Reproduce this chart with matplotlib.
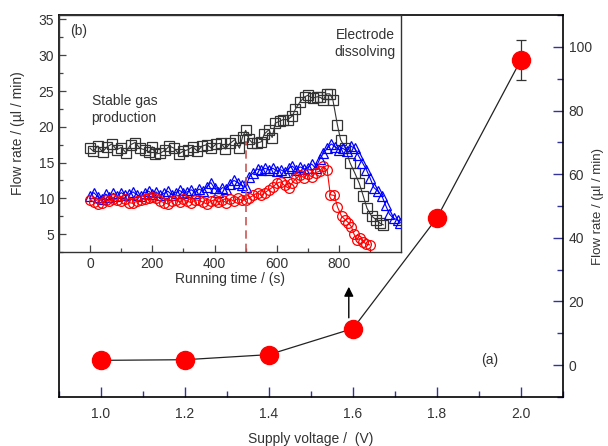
#Recreates the flow rate vs supply voltage chart with the running time inset.
import matplotlib.pyplot as plt
from matplotlib.ticker import MultipleLocator, FixedLocator

plt.rcParams['font.family'] = ['Liberation Sans', 'DejaVu Sans']

#Main chart data (a): supply voltage and flow rate.
voltage = [1.0, 1.2, 1.4, 1.6, 1.8, 2.0]
flow = [1.5, 1.7, 3.3, 11.5, 46.3, 96.0]
flow_err = [0, 0, 0, 0, 0, 6.3]

#Inset data (b): flow rate over running time for three runs.
t_black = [0, 10, 25, 40, 55, 70, 85, 100, 115, 130, 145, 160, 175, 190, 200, 210,
           225, 240, 255, 270, 285, 300, 315, 330, 345, 360, 375, 390, 405, 420, 435,
           450, 465, 480, 490, 500, 510, 520, 535, 550, 560, 575, 585, 595, 610, 620,
           635, 650, 660, 675, 690, 700, 715, 730, 740, 750, 760, 770, 780, 795, 805,
           820, 835, 850, 865, 878, 890, 905, 920, 932, 942]
v_black = [17.0, 16.6, 17.3, 16.5, 17.2, 17.6, 16.8, 17.1, 16.4, 17.5, 17.8, 17.0, 16.8,
           16.5, 17.2, 16.2, 16.3, 16.7, 17.3, 17.0, 16.2, 16.6, 16.8, 17.2, 16.6, 17.3,
           17.5, 17.0, 17.6, 17.7, 16.9, 17.7, 18.2, 17.0, 18.6, 19.5, 18.3, 17.8, 17.7,
           17.9, 19.0, 19.6, 18.5, 20.5, 20.8, 21.0, 21.0, 21.5, 22.5, 23.5, 24.2, 24.4,
           24.0, 24.2, 24.1, 23.8, 24.6, 24.6, 23.8, 20.2, 18.2, 17.0, 15.0, 13.6, 12.1,
           10.3, 8.6, 7.5, 7.0, 6.5, 6.3]

t_blue = [0, 12, 25, 38, 50, 62, 75, 88, 100, 112, 125, 138, 150, 162, 175, 188, 200,
          212, 225, 238, 250, 262, 275, 288, 300, 312, 325, 338, 350, 362, 375, 388, 400,
          412, 425, 438, 450, 462, 475, 488, 500, 512, 525, 538, 550, 562, 575, 588, 600,
          612, 625, 638, 650, 662, 675, 688, 700, 712, 725, 738, 750, 762, 775, 788, 800,
          812, 825, 838, 850, 862, 875, 888, 900, 912, 925, 938, 950, 962, 975, 988, 997]
v_blue = [10.3, 10.8, 10.2, 9.9, 10.6, 10.2, 10.7, 10.3, 10.8, 10.4, 10.6, 10.9, 10.5,
          10.3, 10.8, 11.0, 10.6, 10.9, 10.4, 10.7, 11.0, 10.5, 10.8, 11.1, 10.7, 10.9,
          11.2, 10.8, 11.3, 11.0, 11.6, 12.2, 11.4, 10.9, 11.5, 11.3, 12.0, 12.5, 12.2,
          11.8, 11.6, 13.0, 13.6, 14.1, 13.9, 14.2, 14.0, 14.2, 13.8, 14.0, 13.7, 14.2,
          14.5, 14.0, 14.4, 14.1, 14.3, 14.8, 14.2, 15.5, 16.3, 17.0, 17.6, 17.2, 16.8,
          17.0, 16.6, 17.3, 17.0, 16.0, 15.0, 14.0, 12.8, 11.5, 11.0, 10.3, 9.0, 7.8,
          7.2, 7.0, 6.6]

t_red = [0, 12, 25, 38, 50, 62, 75, 88, 100, 112, 125, 138, 150, 162, 175, 188, 200,
         212, 225, 238, 250, 262, 275, 288, 300, 312, 325, 338, 350, 362, 375, 388, 400,
         412, 425, 438, 450, 462, 475, 488, 500, 512, 525, 538, 550, 562, 575, 588, 600,
         612, 625, 638, 650, 662, 675, 688, 700, 712, 725, 738, 750, 762, 772, 785, 795,
         808, 820, 830, 840, 848, 858, 868, 878, 888, 898]
v_red = [9.8, 9.5, 9.2, 9.4, 9.8, 9.6, 9.9, 9.7, 9.6, 9.9, 9.4, 9.3, 9.6, 9.8, 9.9, 10.0,
         10.2, 10.0, 9.6, 9.4, 9.2, 9.6, 9.8, 9.5, 9.9, 9.6, 9.4, 9.8, 9.7, 9.5, 9.2, 9.6,
         9.8, 9.5, 9.7, 9.4, 9.9, 9.6, 10.0, 9.7, 9.8, 10.1, 10.4, 10.8, 10.4, 10.8, 11.2,
         11.6, 12.1, 12.3, 11.8, 11.4, 12.2, 12.8, 13.2, 12.9, 13.4, 13.0, 13.6, 13.8,
         14.5, 13.9, 10.5, 10.4, 8.8, 7.5, 7.0, 6.6, 6.0, 5.0, 4.2, 4.4, 3.9, 3.6, 3.5]

inset_ticks = [0, 200, 400, 600, 800]

text_col = '#333333'
tick_col = '#33339a'

fig = plt.figure(figsize=(6.08, 4.46), dpi=100)

#Main axes (a) with its scale on the right side.
ax = fig.add_axes([0.097, 0.110, 0.829, 0.856])
ax.plot(voltage, flow, color='#222222', lw=0.9, zorder=2)
ax.errorbar(voltage, flow, yerr=flow_err, fmt='o', color='red', ms=13,
            ecolor='#333333', elinewidth=0.9, capsize=3.5, capthick=0.9, zorder=3)
ax.annotate('', xy=(1.59, 25.5), xytext=(1.59, 14.0),
            arrowprops=dict(arrowstyle='-|>', color='black', lw=1, mutation_scale=14))
ax.text(1.945, 1.5, '(a)', ha='right', va='center', fontsize=10, color=text_col)
ax.set_xlim(0.9, 2.1)
ax.set_ylim(-10, 110)
ax.xaxis.set_major_locator(MultipleLocator(0.2))
ax.xaxis.set_minor_locator(MultipleLocator(0.1))
ax.yaxis.set_major_locator(MultipleLocator(20))
ax.yaxis.set_minor_locator(MultipleLocator(10))
ax.yaxis.tick_right()
ax.yaxis.set_label_position('right')
ax.tick_params(which='both', direction='in', color=tick_col, labelcolor=text_col,
               labelsize=10, top=False, left=False)
ax.tick_params(which='major', length=7, width=1)
ax.tick_params(which='minor', length=4, width=1)
ax.tick_params(axis='y', pad=4)
ax.tick_params(axis='x', pad=7)
ax.set_xlabel('Supply voltage /  (V)', fontsize=10, color=text_col, labelpad=8)
ax.set_ylabel('Flow rate / (µl / min)', fontsize=9.5, color=text_col, rotation=90,
              labelpad=0)
for s in ax.spines.values():
    s.set_linewidth(1.2)

#Inset axes (b) in the upper left corner.
ins = fig.add_axes([0.097, 0.435, 0.563, 0.531])
ins.plot(t_black, v_black, color='#333333', lw=0.8, marker='s', ms=7,
         mfc='none', mec='#333333', mew=0.9)
ins.plot(t_blue, v_blue, color='blue', lw=0.8, marker='^', ms=7.5,
         mfc='none', mec='blue', mew=0.9)
ins.plot(t_red, v_red, color='red', lw=0.8, marker='o', ms=7,
         mfc='none', mec='red', mew=0.9)
ins.plot([500, 500], [2.5, 18.0], color='#cc5555', lw=1.2, ls=(0, (5, 3)))
ins.text(-65, 33.4, '(b)', fontsize=10, color=text_col, va='center')
ins.text(980, 31.6, 'Electrode\ndissolving', fontsize=10, color=text_col,
         ha='right', va='center', linespacing=1.3)
ins.text(5, 22.4, 'Stable gas\nproduction', fontsize=10, color=text_col,
         ha='left', va='center', linespacing=1.3)
ins.set_xlim(-100, 1000)
ins.set_ylim(2.5, 35.6)
ins.xaxis.set_major_locator(FixedLocator(inset_ticks))
ins.xaxis.set_minor_locator(FixedLocator([100, 300, 500, 700, 900]))
ins.yaxis.set_major_locator(MultipleLocator(5))
ins.yaxis.set_minor_locator(MultipleLocator(2.5))
ins.tick_params(which='both', direction='in', color='#444444', labelcolor=text_col,
                labelsize=10)
ins.tick_params(which='major', length=5, width=0.9)
ins.tick_params(which='minor', length=3, width=0.9)
ins.set_xlabel('Running time / (s)', fontsize=10, color=text_col, labelpad=1)
ins.set_ylabel('Flow rate / (µl / min)', fontsize=10, color=text_col, labelpad=10)
for s in ins.spines.values():
    s.set_linewidth(1.0)
    s.set_color('#333333')

fig.savefig('out.png', dpi=100)
